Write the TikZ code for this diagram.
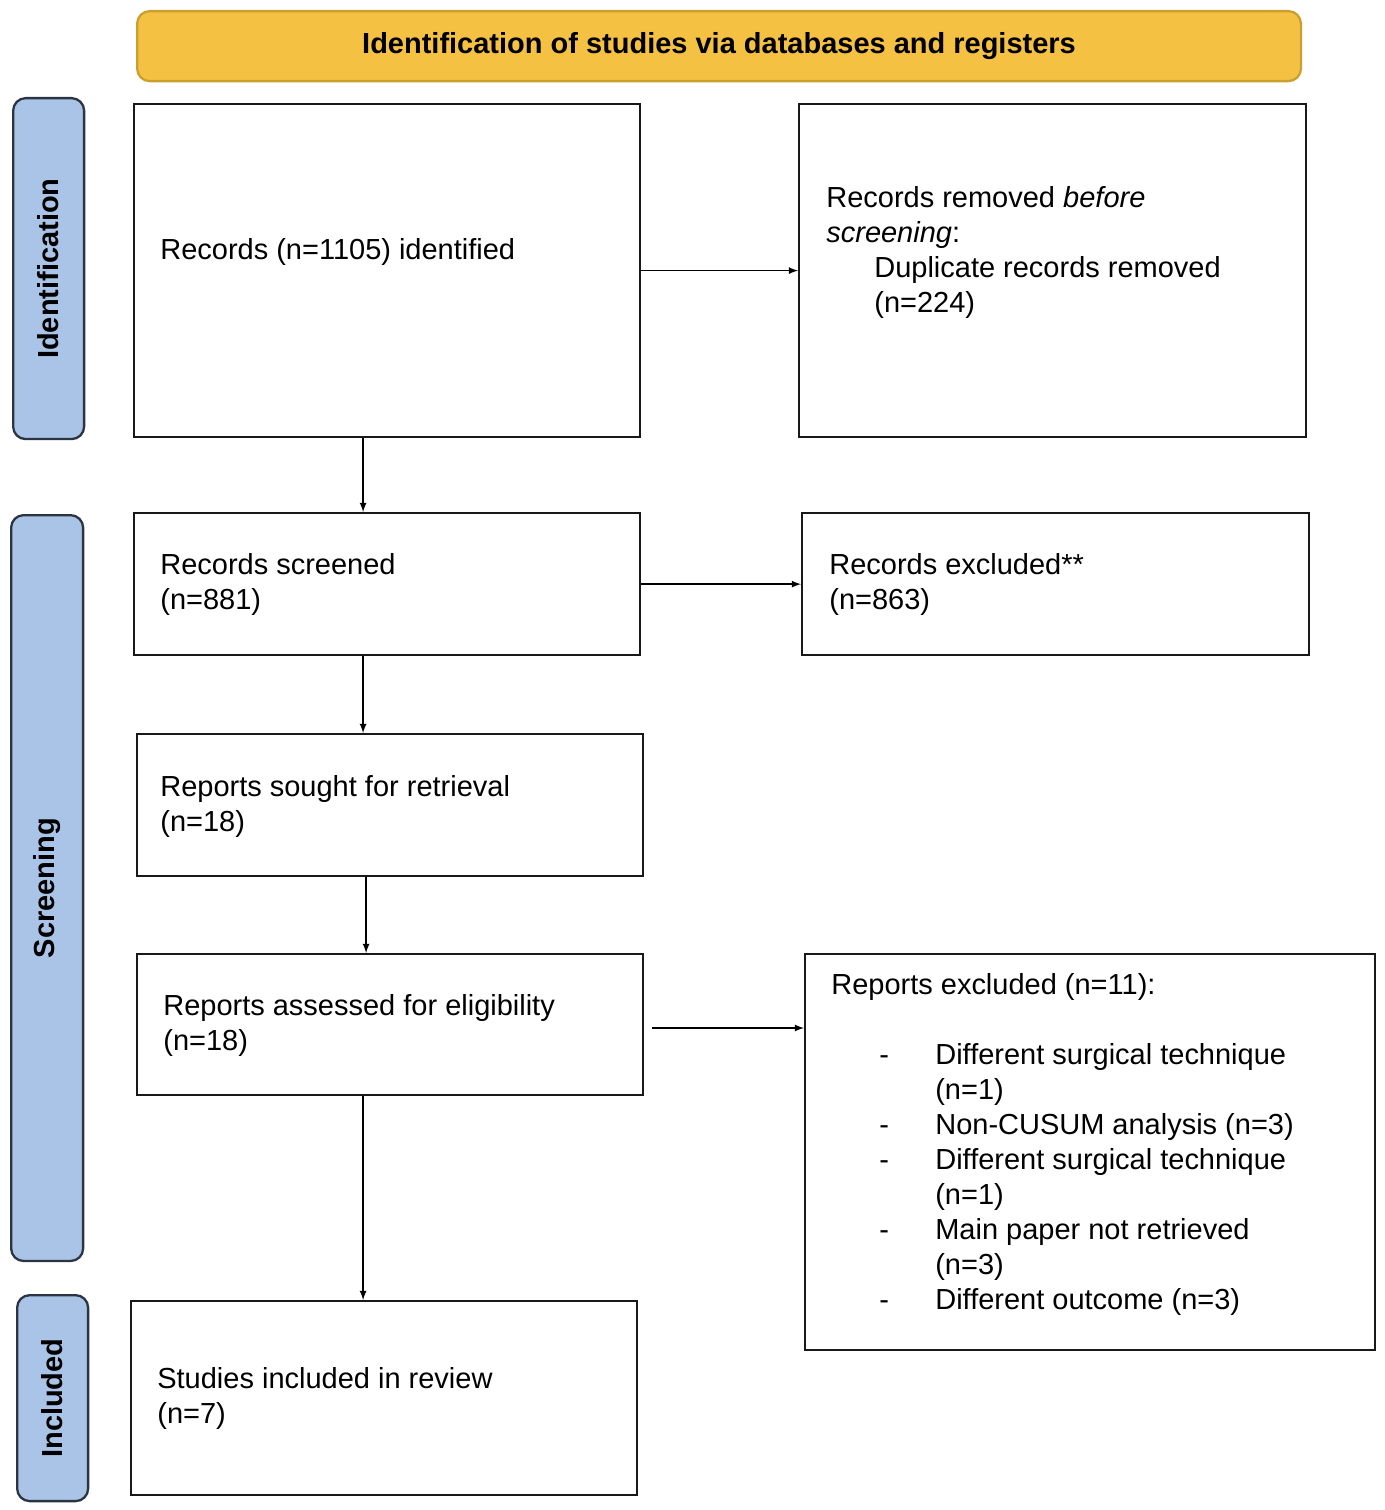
\documentclass[tikz,border=0pt]{standalone}
\usepackage{fontspec}
\setmainfont{Liberation Sans}
\usetikzlibrary{positioning}
\definecolor{headfill}{HTML}{F5C142}
\definecolor{headline}{HTML}{C9A030}
\definecolor{sidefill}{HTML}{A9C4E6}
\definecolor{sideline}{HTML}{2B3440}
\begin{document}
\begin{tikzpicture}[x=0.02cm,y=-0.02cm]
 		\tikzstyle{box}=[rectangle, draw=black!90, line width=1.3pt, anchor=north west, inner sep=0pt]
 		\tikzstyle{side}=[rectangle, rounded corners=0.25cm, fill=sidefill, draw=sideline, line width=1.3pt, anchor=north west, inner sep=0pt]
 		\tikzstyle{txt}=[anchor=north west, inner sep=0pt, align=left, font=\fontsize{16.5}{19.9}\selectfont]
 		\tikzstyle{sidetxt}=[rotate=90, font=\fontsize{16.5}{19.9}\selectfont\bfseries]
 		\tikzstyle{connect}=[-latex, line width=0.8pt]
 		\useasboundingbox (0,0) rectangle (1384,1510);
 		% header and phases
 		\node[rectangle, rounded corners=0.25cm, fill=headfill, draw=headline, line width=1.3pt, minimum width=23.28cm, minimum height=1.4cm, anchor=north west] (head) at (136,10) {};
 		\node[font=\fontsize{16.5}{19.9}\selectfont\bfseries] at (head.center) {Identification of studies via databases and registers};
 		\node[side, minimum width=1.42cm, minimum height=6.82cm] (pid) at (12,97) {};
 		\node[sidetxt] at (pid.center) {Identification};
 		\node[side, minimum width=1.44cm, minimum height=14.92cm] (pscr) at (10,514) {};
 		\node[sidetxt] at (pscr.center) {Screening};
 		\node[side, minimum width=1.42cm, minimum height=4.12cm] (pinc) at (16,1294) {};
 		\node[sidetxt] at (pinc.center) {Included};
 		% boxes
 		\node[box, minimum width=10.12cm, minimum height=6.66cm] (ident) at (133,103) {};
 		\node[box, minimum width=10.14cm, minimum height=6.66cm] (dup) at (798,103) {};
 		\node[box, minimum width=10.12cm, minimum height=2.84cm] (scr) at (133,512) {};
 		\node[box, minimum width=10.14cm, minimum height=2.84cm] (exc) at (801,512) {};
 		\node[box, minimum width=10.12cm, minimum height=2.84cm] (sought) at (136,733) {};
 		\node[box, minimum width=10.12cm, minimum height=2.82cm] (elig) at (136,953) {};
 		\node[box, minimum width=11.4cm, minimum height=7.92cm] (rexc) at (804,953) {};
 		\node[box, minimum width=10.12cm, minimum height=3.88cm] (incl) at (130,1300) {};
 		% texts
 		\node[txt] at (160,238) {Records (n=1105) identified};
 		\node[txt] at (826,186) {Records removed \textit{before}\\\textit{screening}:\\\hspace*{0.96cm}Duplicate records removed\\\hspace*{0.96cm}(n=224)};
 		\node[txt] at (160,553) {Records screened\\(n=881)};
 		\node[txt] at (829,553) {Records excluded**\\(n=863)};
 		\node[txt] at (160,775) {Reports sought for retrieval\\(n=18)};
 		\node[txt] at (163,994) {Reports assessed for eligibility\\(n=18)};
 		\node[txt] at (831,973) {Reports excluded (n=11):\\[0.7cm]
 			\hspace*{0.96cm}\makebox[1.12cm][l]{-}Different surgical technique\\
 			\hspace*{2.08cm}(n=1)\\
 			\hspace*{0.96cm}\makebox[1.12cm][l]{-}Non-CUSUM analysis (n=3)\\
 			\hspace*{0.96cm}\makebox[1.12cm][l]{-}Different surgical technique\\
 			\hspace*{2.08cm}(n=1)\\
 			\hspace*{0.96cm}\makebox[1.12cm][l]{-}Main paper not retrieved\\
 			\hspace*{2.08cm}(n=3)\\
 			\hspace*{0.96cm}\makebox[1.12cm][l]{-}Different outcome (n=3)};
 		\node[txt] at (157,1367) {Studies included in review\\(n=7)};
 		% connectors
 		\draw[connect] (ident.east) -- (dup.west);
 		\draw[connect] ([xshift=-0.48cm]ident.south) -- ([xshift=-0.48cm]ident.south |- scr.north);
 		\draw[connect] (scr.east) -- (exc.west);
 		\draw[connect] ([xshift=-0.48cm]scr.south) -- ([xshift=-0.48cm]scr.south |- sought.north);
 		\draw[connect] ([xshift=-0.48cm]sought.south) -- ([xshift=-0.48cm]sought.south |- elig.north);
 		\draw[connect] ([xshift=0.16cm]elig.east |- 0,1028) -- (rexc.west |- 0,1028);
 		\draw[connect] ([xshift=-0.54cm]elig.south) -- ([xshift=-0.54cm]elig.south |- incl.north);
\end{tikzpicture}
\end{document}
